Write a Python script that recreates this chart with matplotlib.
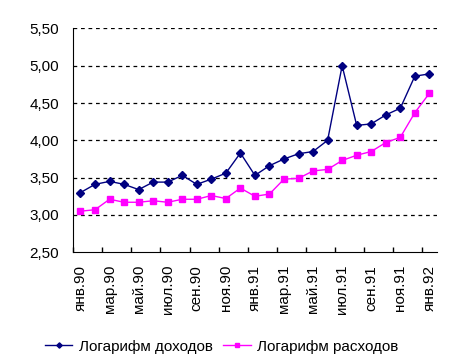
import matplotlib
matplotlib.use("Agg")
import matplotlib.pyplot as plt
from matplotlib.ticker import FuncFormatter

# помесячно, янв.90 - янв.92
months = ["янв", "фев", "мар", "апр", "май", "июн", "июл", "авг", "сен", "окт", "ноя", "дек"]
labels = [f"{months[i % 12]}.{90 + i // 12}" for i in range(25)]

log_income = [3.30, 3.41, 3.45, 3.41, 3.34, 3.44, 3.44, 3.53, 3.41, 3.48,
              3.56, 3.83, 3.53, 3.66, 3.75, 3.82, 3.85, 4.00, 5.00, 4.20,
              4.22, 4.34, 4.43, 4.86, 4.89]
log_spend = [3.05, 3.07, 3.21, 3.17, 3.17, 3.19, 3.17, 3.21, 3.21, 3.26,
             3.22, 3.36, 3.25, 3.28, 3.48, 3.49, 3.59, 3.61, 3.73, 3.80,
             3.85, 3.97, 4.04, 4.37, 4.63]

plt.rcParams['font.family'] = ['Liberation Sans', 'DejaVu Sans']
plt.rcParams['font.size'] = 11

fig = plt.figure(figsize=(4.52, 3.64), dpi=100)
ax = fig.add_axes([0.162, 0.307, 0.804, 0.615])

x = list(range(len(labels)))
ax.plot(x, log_income, color="#000080", lw=1, marker="D", ms=4.5,
        label="Логарифм доходов")
ax.plot(x, log_spend, color="#FF00FF", lw=1, marker="s", ms=5,
        label="Логарифм расходов")

ax.set_xlim(-0.5, len(labels) - 0.5)
ax.set_ylim(2.5, 5.5)
ax.set_yticks([2.5, 3.0, 3.5, 4.0, 4.5, 5.0, 5.5])
ax.yaxis.set_major_formatter(FuncFormatter(lambda v, p: f"{v:.2f}".replace(".", ",")))
ax.set_xticks(x[::2])
ax.set_xticklabels(labels[::2], rotation=90)
ax.set_xticks([i - 0.5 for i in range(0, 26, 2)], minor=True)
ax.tick_params(axis="x", which="major", length=0, pad=9)
ax.tick_params(axis="x", which="minor", length=3.6, direction="in", width=1)
ax.tick_params(axis="y", length=0, pad=10)

for v in [3.0, 3.5, 4.0, 4.5, 5.0, 5.5]:
    ax.axhline(v, color="black", lw=0.9, ls=(0, (3, 3)), zorder=0)

ax.spines["top"].set_visible(False)
ax.spines["right"].set_visible(False)

fig.legend(loc="center", bbox_to_anchor=(0.49, 0.048), ncol=2, frameon=False,
           handlelength=1.8, handletextpad=0.4, columnspacing=0.7,
           markerscale=0.6, fontsize=11)

fig.savefig("out.png", dpi=100)
